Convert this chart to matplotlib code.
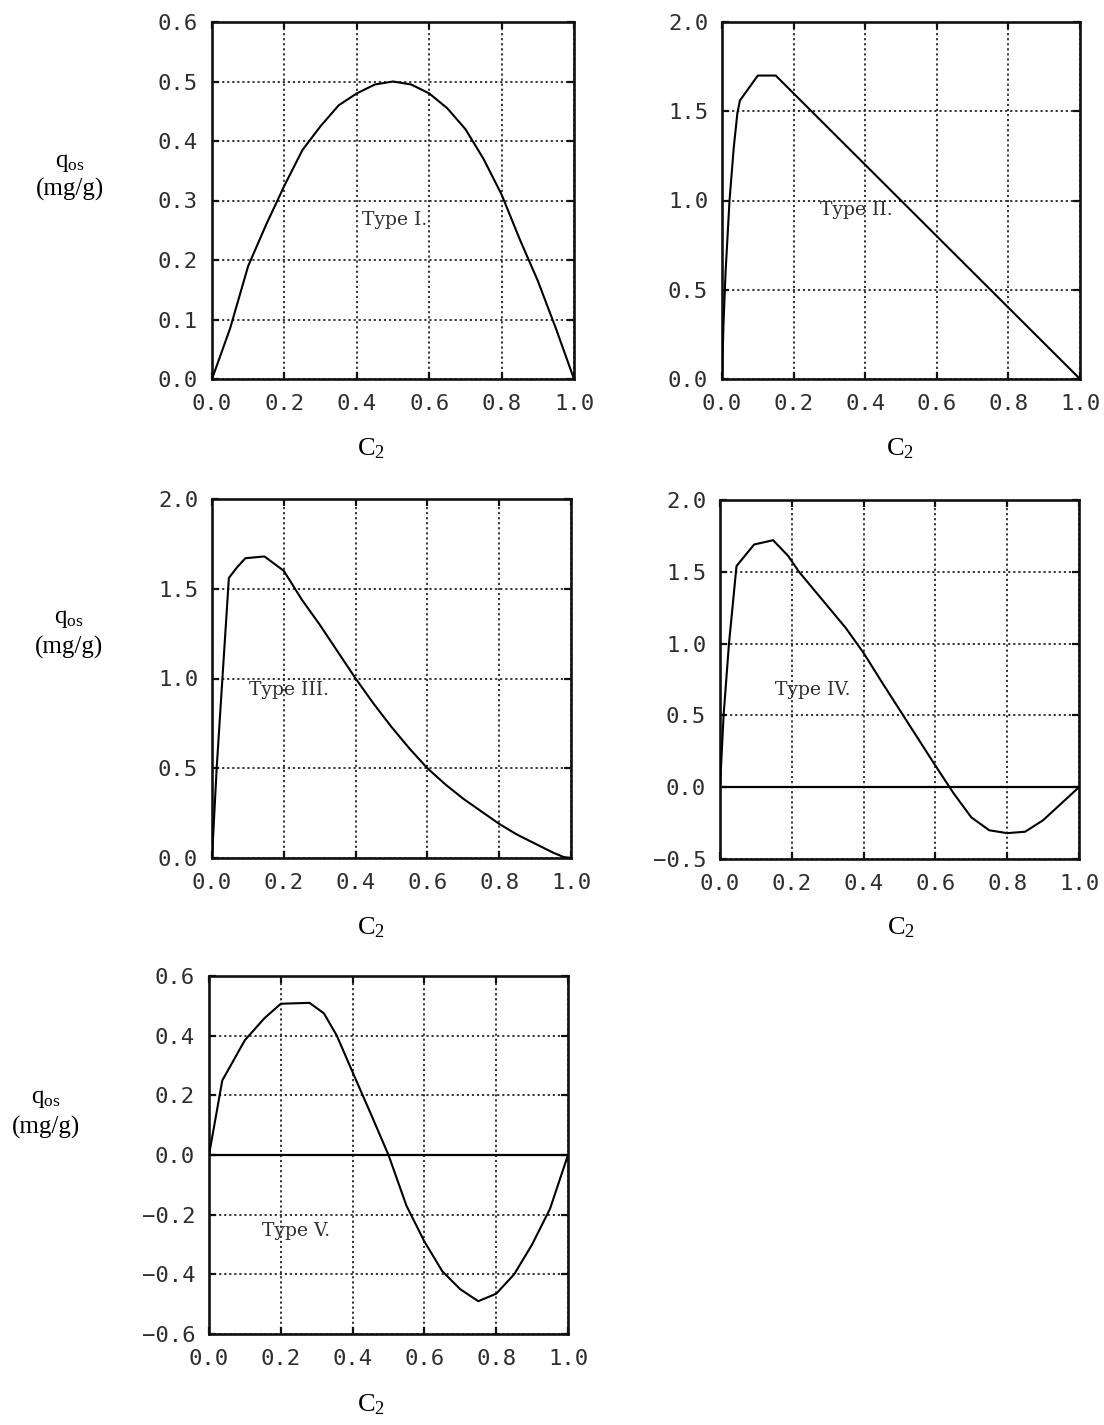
### Isotherm shapes: adsorbed amount q_os against C2 for types I-V
#%%
import matplotlib
matplotlib.use('Agg')
import matplotlib.pyplot as plt
import numpy as np

plt.rcParams['mathtext.fontset'] = 'custom'
plt.rcParams['mathtext.rm'] = 'Liberation Serif'
plt.rcParams['mathtext.it'] = 'Liberation Serif:italic'

# Type I
c_type1 = [0, .05, .1, .15, .2, .25, .3, .35, .4, .45, .5, .55, .6, .65, .7, .75, .8, .85, .9, .95, 1.0]
q_type1 = [0, .085, .19, .26, .325, .385, .425, .46, .48, .495, .50, .495, .48, .455, .42, .37, .31, .235, .165, .085, 0]

# Type II
c_type2 = [0, .004, .01, .021, .033, .043, .05, .1, .15, .2, .3, .4, .5, .6, .7, .8, .9, 1.0]
q_type2 = [0, .3, .6, 1.0, 1.3, 1.49, 1.56, 1.70, 1.70, 1.6, 1.4, 1.2, 1.0, .8, .6, .4, .2, 0]

# Type III
c_type3 = [0, .013, .029, .047, .07, .093, .146, .2, .25, .3, .35, .4, .45, .5, .55, .6, .65, .7, .75, .8,
           .85, .9, .95, .98, 1.0]
q_type3 = [0, .5, 1.0, 1.56, 1.62, 1.67, 1.68, 1.60, 1.44, 1.30, 1.15, 1.0, .86, .73, .61, .50, .41, .33, .26,
           .19, .13, .08, .03, .005, 0]

# Type IV
c_type4 = [0, .01, .025, .046, .095, .148, .19, .22, .25, .3, .35, .4, .45, .5, .55, .6, .65, .7, .75, .8,
           .85, .9, .95, 1.0]
q_type4 = [0, .5, 1.0, 1.54, 1.69, 1.72, 1.61, 1.5, 1.41, 1.26, 1.11, .935, .735, .54, .345, .15, -.04, -.21,
           -.30, -.32, -.31, -.23, -.115, 0]

# Type V
c_type5 = [0, .037, .1, .154, .2, .28, .32, .356, .41, .45, .5, .55, .6, .65, .7, .75, .8, .85, .9, .95, 1.0]
q_type5 = [0, .25, .385, .458, .507, .51, .475, .40, .25, .14, 0, -.17, -.29, -.39, -.45, -.49, -.465, -.40,
           -.30, -.18, 0]

type_names = ['Type I.', 'Type II.', 'Type III.', 'Type IV.', 'Type V.']
type_label_xy = [(.414, .267), (.273, .947), (.103, .936), (.153, .677), (.149, -.255)]

x_ticks = [0.0, 0.2, 0.4, 0.6, 0.8, 1.0]
y_ticks = [
    [0.0, 0.1, 0.2, 0.3, 0.4, 0.5, 0.6],
    [0.0, 0.5, 1.0, 1.5, 2.0],
    [0.0, 0.5, 1.0, 1.5, 2.0],
    [-0.5, 0.0, 0.5, 1.0, 1.5, 2.0],
    [-0.6, -0.4, -0.2, 0.0, 0.2, 0.4, 0.6],
]

W, H = 1104, 1425
fig = plt.figure(figsize=(W / 100, H / 100), dpi=100)


def box(left, top, right, bottom):
    # pixel box -> figure fraction
    return [left / W, 1 - bottom / H, (right - left) / W, (bottom - top) / H]


#%%
panel_boxes = [box(212, 22, 574, 379), box(722, 22, 1080, 379), box(212, 499, 571, 858),
               box(720, 500, 1079, 859), box(209, 976, 568, 1334)]
curves = [(c_type1, q_type1), (c_type2, q_type2), (c_type3, q_type3),
          (c_type4, q_type4), (c_type5, q_type5)]

for i, (rect, (c, q)) in enumerate(zip(panel_boxes, curves)):
    ax = fig.add_axes(rect)
    ax.plot(c, q, color='k', lw=1.5, zorder=3)
    yt = y_ticks[i]
    ax.set_xlim(0, 1)
    ax.set_ylim(yt[0], yt[-1])
    ax.set_xticks(x_ticks)
    ax.set_yticks(yt)
    ax.set_xticklabels(['%.1f' % v for v in x_ticks])
    ax.set_yticklabels([('%.1f' % v).replace('-', '\u2212') for v in yt])
    ax.grid(True, color='0.15', linestyle=(0, (1.2, 1.6)), lw=1.3)
    if yt[0] < 0:
        ax.axhline(0, color='k', lw=1.6, zorder=2)
    for s in ax.spines.values():
        s.set_linewidth(1.9)
        s.set_color('#111111')
    ax.tick_params(direction='in', length=5, width=1.6, top=True, right=True,
                   labelsize=16, colors='#111111')
    ax.tick_params(axis='x', pad=11)
    ax.tick_params(axis='y', pad=10)
    for lab in ax.get_xticklabels() + ax.get_yticklabels():
        lab.set_color('#2e2e2e')
        lab.set_family('DejaVu Sans Mono')
    tx, ty = type_label_xy[i]
    ax.text(tx, ty, type_names[i], family='DejaVu Serif', fontsize=13.5,
            color='#303030', ha='left', va='center', zorder=4)

#%% axis titles
c2_pos = [(371, 448), (900, 448), (371, 927), (901, 927), (371, 1404)]
for x, y in c2_pos:
    fig.text(x / W, 1 - y / H, r'$\mathrm{C_2}$', fontsize=19, ha='center', va='center')

qos_pos = [(70, 162, 189), (69, 618, 647), (46, 1098, 1127)]
for x, y1, y2 in qos_pos:
    fig.text(x / W, 1 - y1 / H, r'$\mathrm{q_{os}}$', fontsize=18, ha='center', va='center')
    fig.text(x / W, 1 - y2 / H, '(mg/g)', family='Liberation Serif', fontsize=18,
             ha='center', va='center')

fig.savefig('out.png', dpi=100, facecolor='white')
